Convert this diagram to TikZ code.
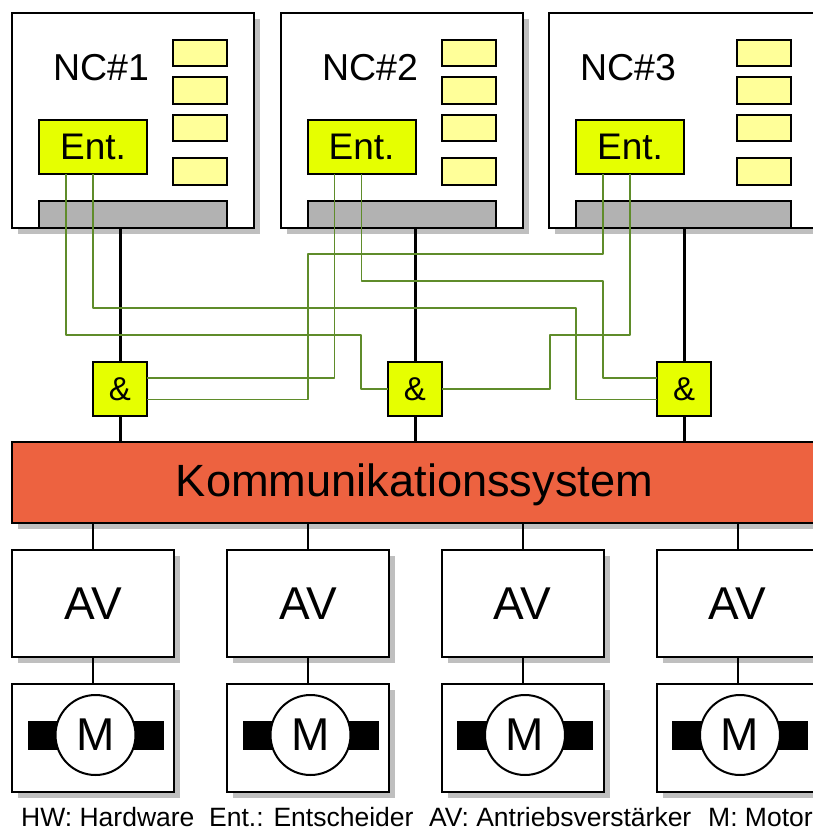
\documentclass[tikz,border=0pt]{standalone}
\usepackage{fontspec}
\setmainfont{Liberation Sans}
\usetikzlibrary{shadows}
\definecolor{shadowgray}{HTML}{BFBFBF}
\definecolor{lemon}{HTML}{FFFF99}
\definecolor{acid}{HTML}{E6FF00}
\definecolor{midgray}{HTML}{B2B2B2}
\definecolor{brick}{HTML}{ED6240}
\definecolor{wirecol}{HTML}{5F8C2A}
\tikzset{
  base/.style={draw=black,line width=2pt,rectangle,inner sep=0pt,outer sep=0pt},
  shad/.style={drop shadow={shadow xshift=6pt,shadow yshift=-6pt,fill=shadowgray,opacity=1}},
  ncbox/.style={base,shad,fill=white,minimum height=215pt},
  mem/.style={base,fill=lemon,minimum width=54pt,minimum height=26.5pt},
  entbox/.style={base,fill=acid,minimum width=108pt,minimum height=54pt,font=\fontsize{37}{37}\selectfont},
  bus/.style={base,fill=midgray,minimum height=27pt},
  andbox/.style={base,fill=acid,minimum width=54pt,minimum height=54pt,font=\fontsize{33}{33}\selectfont},
  avbox/.style={base,shad,fill=white,minimum width=162pt,minimum height=107pt,font=\fontsize{46}{46}\selectfont},
  motbox/.style={base,shad,fill=white,minimum width=162pt,minimum height=108pt},
  bar/.style={fill=black,rectangle,inner sep=0pt,minimum width=136pt,minimum height=29pt},
  rotor/.style={draw=black,line width=2pt,fill=white,circle,inner sep=0pt,minimum size=80pt,font=\fontsize{46}{46}\selectfont},
  label/.style={inner sep=0pt,font=\fontsize{37.5}{37.5}\selectfont},
  legend/.style={inner sep=0pt,anchor=base west,font=\fontsize{26.5}{26.5}\selectfont},
  thick link/.style={draw=black,line width=3pt},
  thin link/.style={draw=black,line width=2pt},
  wire/.style={draw=wirecol,line width=1.8pt,line join=round},
}
\begin{document}
\begin{tikzpicture}[x=1pt,y=-1pt]
\clip (0,0) rectangle (813,830);
\useasboundingbox (0,0) rectangle (813,830);
% NC boxes
\node[ncbox,minimum width=242pt] (nc1) at (133,120.5) {};
\node[ncbox,minimum width=242pt] (nc2) at (402,120.5) {};
\node[ncbox,minimum width=270pt] (nc3) at (684,120.5) {};
\node[label] (t1) at (101,68) {NC\#1};
\node[label] (t2) at (370,68) {NC\#2};
\node[label] (t3) at (628,68) {NC\#3};
% memory
\foreach \n/\x in {a/200,b/469,c/764}{
  \node[mem] (m\n1) at (\x,53) {};
  \node[mem] (m\n2) at (\x,90.5) {};
  \node[mem] (m\n3) at (\x,128) {};
  \node[mem] (m\n4) at (\x,171.5) {};
}
% deciders
\node[entbox] (ent1) at (93,147) {Ent.};
\node[entbox] (ent2) at (361.5,147) {Ent.};
\node[entbox] (ent3) at (630,147) {Ent.};
% bus interfaces
\node[bus,minimum width=188pt] (hw1) at (133,214.5) {};
\node[bus,minimum width=188pt] (hw2) at (402,214.5) {};
\node[bus,minimum width=215pt] (hw3) at (683.5,214.5) {};
% and gates
\node[andbox] (and1) at (120,389) {\&};
\node[andbox] (and2) at (415,389) {\&};
\node[andbox] (and3) at (684,389) {\&};
% communication
\node[base,shad,fill=brick,minimum width=806pt,minimum height=81pt] (kom) at (415,482.5) {};
\node[inner sep=0pt,font=\fontsize{45.2}{45.2}\selectfont] (komt) at (414.5,484.5) {Kommunikationssystem};
% amplifiers and motors
\foreach \i/\x/\m in {1/93/95.5,2/308/310.5,3/522.5/525,4/737.5/740}{
  \node[avbox] (av\i) at (\x,603.5) {AV};
  \node[motbox] (mb\i) at (\x,738) {};
  \node[bar] (bar\i) at (\m,735) {};
  \node[rotor] (rot\i) at (\m,735) {M};
  \draw[thin link] (kom.south -| av\i.north) -- (av\i.north);
  \draw[thin link] (av\i.south) -- (mb\i.north);
}
% thick vertical links
\draw[thick link] (hw1.south -| and1.north) -- (and1.north);
\draw[thick link] (hw2.south -| and2.north) -- (and2.north);
\draw[thick link] (hw3.south -| and3.north) -- (and3.north);
\draw[thick link] (and1.south) -- (kom.north -| and1.south);
\draw[thick link] (and2.south) -- (kom.north -| and2.south);
\draw[thick link] (and3.south) -- (kom.north -| and3.south);
% redundancy wiring
\coordinate (e1a) at ([xshift=-27pt]ent1.south);
\coordinate (e1b) at (ent1.south);
\coordinate (e2a) at ([xshift=-27pt]ent2.south);
\coordinate (e2b) at (ent2.south);
\coordinate (e3a) at ([xshift=-27pt]ent3.south);
\coordinate (e3b) at (ent3.south);
\draw[wire] (e1a) |- (361,335) |- (and2.west);
\draw[wire] (e1b) |- (576,308) |- ([yshift=-10.5pt]and3.west);
\draw[wire] (e2a) |- ([yshift=11pt]and1.east);
\draw[wire] (e2b) |- (603,281) |- ([yshift=11pt]and3.west);
\draw[wire] (e3a) |- (308,254) |- ([yshift=-10.5pt]and1.east);
\draw[wire] (e3b) |- (550,335) |- (and2.east);
% legend
\node[legend] (l1) at (21,826.5) {HW: Hardware};
\node[legend] (l2) at (209,826.5) {Ent.: Entscheider};
\node[legend] (l3) at (429,826.5) {AV: Antriebsverstärker};
\node[legend] (l4) at (708,826.5) {M: Motor};
\end{tikzpicture}
\end{document}
